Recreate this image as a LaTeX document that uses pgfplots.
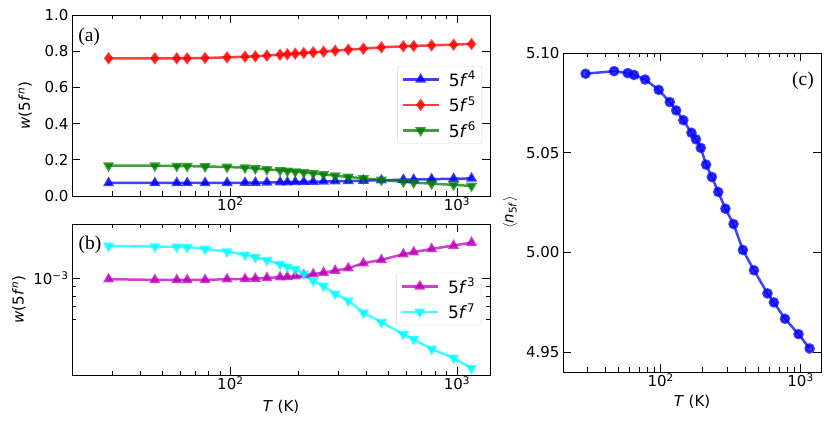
\documentclass[border=0pt]{standalone}
\usepackage{fontspec}
\setmainfont{DejaVu Sans}
\newfontfamily\serifa{Liberation Serif}
\usepackage{pgfplots}
\usepackage{pgfplotstable}
\pgfplotsset{compat=1.18}
\definecolor{mb}{rgb}{0,0,1}
\definecolor{mr}{rgb}{1,0,0}
\definecolor{mg}{rgb}{0,0.5,0}
\definecolor{mm}{rgb}{0.75,0,0.75}
\definecolor{mc}{rgb}{0,1,1}

\pgfplotstableread{
T w3 w4 w5 w6 w7 n
29.011 0.0009876 0.0720 0.7606 0.1676 0.001498 5.0896
46.418 0.0009790 0.0720 0.7606 0.1676 0.001485 5.0909
58.023 0.0009790 0.0721 0.7606 0.1657 0.001480 5.0899
64.469 0.0009790 0.0722 0.7606 0.1650 0.001474 5.0890
77.363 0.0009790 0.0724 0.7624 0.1630 0.001443 5.0867
96.704 0.0009876 0.0727 0.7661 0.1602 0.001395 5.0815
116.045 0.0009910 0.0733 0.7698 0.1565 0.001339 5.0754
128.939 0.0009950 0.0740 0.7716 0.1520 0.001300 5.0712
145.056 0.0010040 0.0748 0.7753 0.1473 0.001253 5.0663
165.779 0.0010125 0.0760 0.7808 0.1418 0.001191 5.0600
178.531 0.0010165 0.0766 0.7827 0.1381 0.001152 5.0567
193.408 0.0010254 0.0774 0.7864 0.1344 0.001119 5.0524
210.991 0.0010382 0.0782 0.7901 0.1308 0.001055 5.0440
232.090 0.0010512 0.0792 0.7937 0.1252 0.0009667 5.0378
257.878 0.0010725 0.0803 0.7974 0.1197 0.0009082 5.0303
290.113 0.0010997 0.0816 0.8029 0.1123 0.0008217 5.0219
331.557 0.0011330 0.0831 0.8085 0.1050 0.0007555 5.0142
386.817 0.0012065 0.0849 0.8140 0.0976 0.0006501 5.0012
464.180 0.0012575 0.0870 0.8214 0.0884 0.0005765 4.9910
580.225 0.0013500 0.0898 0.8269 0.0780 0.0004962 4.9794
644.694 0.0013845 0.0910 0.8287 0.0740 0.0004661 4.9749
773.633 0.0014427 0.0930 0.8324 0.0680 0.0004128 4.9667
967.042 0.0015040 0.0953 0.8361 0.0615 0.0003687 4.9590
1160.450 0.0015614 0.0972 0.8398 0.0555 0.0003242 4.9518
}\datatab

\begin{document}
\begin{tikzpicture}
\path[use as bounding box] (0pt,0pt) rectangle (830pt,425pt);

% panel (a)
\begin{axis}[
  scale only axis,
  xmode=log, xmin=20, xmax=1400,
  xtick={100,1000},
  xticklabels={10\textsuperscript{2},10\textsuperscript{3}},
  minor xtick={30,40,50,60,70,80,90,200,300,400,500,600,700,800,900},
  tick align=inside,
  major tick length=8pt, minor tick length=4.5pt,
  tick style={line width=0.8pt, black},
  axis line style={line width=0.9pt},
  tick label style={font=\fontsize{15}{18}\selectfont},
  xticklabel style={yshift=2pt},
  legend cell align=left,
  legend image code/.code={\draw[mark repeat=2,mark phase=2,#1] plot coordinates {(0pt,0pt) (18pt,0pt) (36pt,0pt)};},
  legend style={anchor=north west, draw=black!15, rounded corners=2pt, fill=white, fill opacity=0.8, text opacity=1,
    font=\fontsize{17}{20}\selectfont, inner xsep=4pt, inner ysep=3pt, row sep=5pt,
    /tikz/every odd column/.append style={column sep=7pt},
    at={(axis description cs:0.778,0.718)}},
  at={(72pt,229pt)}, anchor=south west, width=418pt, height=181pt,
  ymin=0, ymax=1.0, ytick={0,0.2,0.4,0.6,0.8,1.0},
  yticklabels={0.0,0.2,0.4,0.6,0.8,1.0},
  ylabel={\textit{w}(5\textit{f}\textsuperscript{\textit{n}})},
  every axis y label/.style={at={(axis description cs:-0.112,0.5)}, rotate=90, anchor=center, font=\fontsize{15}{18}\selectfont},
]
\addplot[line width=2.5pt, opacity=0.75, mark size=4pt, color=mb, mark=triangle*] table[x=T,y=w4]{\datatab};
\addlegendentry{5\textit{f}\textsuperscript{4}}
\addplot[line width=2.5pt, opacity=0.75, color=mr, mark=diamond*, mark size=4.2pt] table[x=T,y=w5]{\datatab};
\addlegendentry{5\textit{f}\textsuperscript{5}}
\addplot[line width=2.5pt, opacity=0.75, mark size=4pt, color=mg, mark=triangle*, mark options={rotate=180}] table[x=T,y=w6]{\datatab};
\addlegendentry{5\textit{f}\textsuperscript{6}}
\node[font=\serifa\fontsize{19.5}{22}\selectfont] at (rel axis cs:0.041,0.878) {(a)};
\end{axis}

% panel (b)
\begin{axis}[
  scale only axis,
  xmode=log, xmin=20, xmax=1400,
  xtick={100,1000},
  xticklabels={10\textsuperscript{2},10\textsuperscript{3}},
  minor xtick={30,40,50,60,70,80,90,200,300,400,500,600,700,800,900},
  tick align=inside,
  major tick length=8pt, minor tick length=4.5pt,
  tick style={line width=0.8pt, black},
  axis line style={line width=0.9pt},
  tick label style={font=\fontsize{15}{18}\selectfont},
  xticklabel style={yshift=2pt},
  legend cell align=left,
  legend image code/.code={\draw[mark repeat=2,mark phase=2,#1] plot coordinates {(0pt,0pt) (18pt,0pt) (36pt,0pt)};},
  legend style={anchor=north west, draw=black!15, rounded corners=2pt, fill=white, fill opacity=0.8, text opacity=1,
    font=\fontsize{17}{20}\selectfont, inner xsep=4pt, inner ysep=3pt, row sep=5pt,
    /tikz/every odd column/.append style={column sep=7pt},
    at={(axis description cs:0.776,0.677)}},
  at={(72pt,50pt)}, anchor=south west, width=418pt, height=151pt,
  ymode=log, ymin=2.98e-4, ymax=1.97e-3,
  ytick={1e-3}, yticklabels={10\textsuperscript{−3}},
  minor ytick={6e-4,7e-4,8e-4,9e-4},
  ylabel={\textit{w}(5\textit{f}\textsuperscript{\textit{n}})},
  xlabel={\textit{T} (K)},
  every axis y label/.style={at={(axis description cs:-0.127,0.5)}, rotate=90, anchor=center, font=\fontsize{15}{18}\selectfont},
  every axis x label/.style={at={(axis description cs:0.5,-0.21)}, anchor=center, font=\fontsize{15}{18}\selectfont},
]
\addplot[line width=2.5pt, opacity=0.75, mark size=4pt, color=mm, mark=triangle*] table[x=T,y=w3]{\datatab};
\addlegendentry{5\textit{f}\textsuperscript{3}}
\addplot[line width=2.5pt, opacity=0.75, mark size=4pt, color=mc, mark=triangle*, mark options={rotate=180}] table[x=T,y=w7]{\datatab};
\addlegendentry{5\textit{f}\textsuperscript{7}}
\node[font=\serifa\fontsize{19.5}{22}\selectfont] at (rel axis cs:0.043,0.861) {(b)};
\end{axis}

% panel (c)
\begin{axis}[
  scale only axis,
  xmode=log, xmin=20, xmax=1400,
  xtick={100,1000},
  xticklabels={10\textsuperscript{2},10\textsuperscript{3}},
  minor xtick={30,40,50,60,70,80,90,200,300,400,500,600,700,800,900},
  tick align=inside,
  major tick length=8pt, minor tick length=4.5pt,
  tick style={line width=0.8pt, black},
  axis line style={line width=0.9pt},
  tick label style={font=\fontsize{15}{18}\selectfont},
  xticklabel style={yshift=2pt},
  at={(563pt,53pt)}, anchor=south west, width=258pt, height=319pt,
  ymin=4.94, ymax=5.10, ytick={4.95,5.00,5.05,5.10},
  yticklabels={4.95,5.00,5.05,5.10},
  ylabel={$\langle$\textit{n}\textsubscript{5\textit{f}}$\rangle$},
  xlabel={\textit{T} (K)},
  every axis y label/.style={at={(axis description cs:-0.205,0.5)}, rotate=90, anchor=center, font=\fontsize{15}{18}\selectfont},
  every axis x label/.style={at={(axis description cs:0.5,-0.0924)}, anchor=center, font=\fontsize{15}{18}\selectfont},
]
\addplot[line width=2.5pt, opacity=0.75, mark size=4pt, color=mb, mark=*] table[x=T,y=n]{\datatab};
\node[font=\serifa\fontsize{19.5}{22}\selectfont] at (rel axis cs:0.930,0.913) {(c)};
\end{axis}
\end{tikzpicture}
\end{document}
